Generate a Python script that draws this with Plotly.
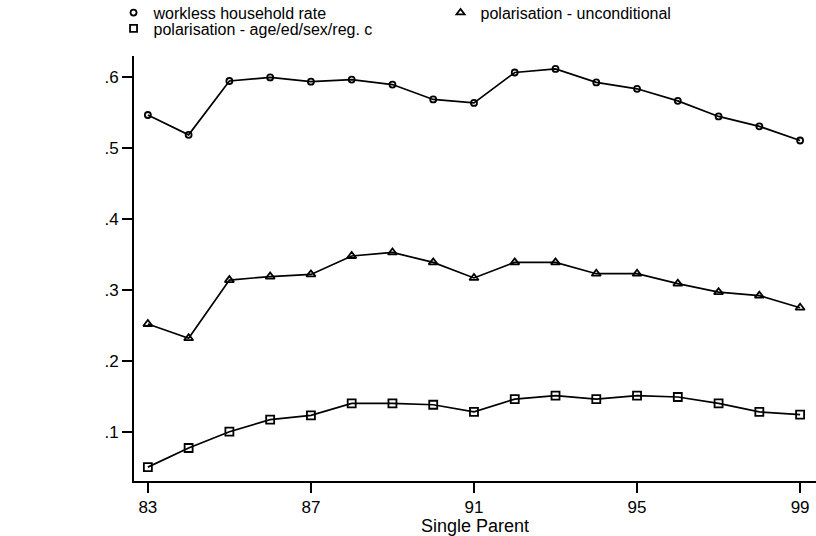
import plotly.graph_objects as go

years = list(range(83, 100))
workless = [0.547, 0.519, 0.595, 0.600, 0.594, 0.597, 0.590, 0.569, 0.564,
            0.607, 0.612, 0.593, 0.584, 0.567, 0.545, 0.531, 0.511]
polar_uncond = [0.252, 0.232, 0.314, 0.319, 0.322, 0.348, 0.353, 0.339, 0.317,
                0.339, 0.339, 0.323, 0.323, 0.309, 0.297, 0.292, 0.275]
polar_cond = [0.050, 0.077, 0.100, 0.117, 0.123, 0.140, 0.140, 0.138, 0.128,
              0.146, 0.151, 0.146, 0.151, 0.149, 0.140, 0.128, 0.124]

x_ticks = [83, 87, 91, 95, 99]
y_ticks = [0.1, 0.2, 0.3, 0.4, 0.5, 0.6]
y_tick_labels = [".1", ".2", ".3", ".4", ".5", ".6"]

FONT = "Liberation Sans"
fig = go.Figure()

series = [
    ("workless household rate", workless, "circle-open", 6, 6, "legend"),
    ("polarisation - unconditional", polar_uncond, "triangle-up-open", 8, 7, "legend"),
    ("polarisation - age/ed/sex/reg. c", polar_cond, "square-open", 8, 7, "legend2"),
]
for name, vals, sym, msize, lsize, lg in series:
    fig.add_trace(go.Scatter(
        x=years, y=vals, mode="lines+markers", name=name, showlegend=False,
        line=dict(color="black", width=1.7),
        marker=dict(symbol=sym, size=msize, color="black", line=dict(width=1.8, color="black")),
    ))
for name, vals, sym, msize, lsize, lg in series:
    fig.add_trace(go.Scatter(
        x=[None], y=[None], mode="markers", name=name, showlegend=True, legend=lg,
        marker=dict(symbol=sym, size=lsize, color="black", line=dict(width=1.8, color="black")),
    ))

legend_common = dict(
    orientation="h", xanchor="left", yanchor="top",
    entrywidth=282, entrywidthmode="pixels", font=dict(size=16),
    itemwidth=30, tracegroupgap=0, bgcolor="rgba(0,0,0,0)",
)

fig.update_layout(
    width=816, height=536,
    margin=dict(l=134, r=0, t=56, b=55, autoexpand=False),
    paper_bgcolor="white", plot_bgcolor="white",
    font=dict(family=FONT, size=16, color="black"),
    showlegend=True,
    legend=dict(x=-0.03, y=1.142, **legend_common),
    legend2=dict(x=-0.03, y=1.105, **legend_common),
    xaxis=dict(
        range=[82.66, 99.39], tickvals=x_ticks, ticktext=[str(v) for v in x_ticks],
        showline=True, linecolor="black", linewidth=1.8, showgrid=False, zeroline=False,
        ticks="outside", ticklen=10, tickwidth=1.8, tickcolor="black",
        title=dict(text="Single Parent", standoff=0, font=dict(size=18)),
        tickfont=dict(size=17),
    ),
    yaxis=dict(
        range=[0.0304, 0.6303], tickvals=y_ticks, ticktext=y_tick_labels,
        showline=True, linecolor="black", linewidth=1.8, showgrid=False, zeroline=False,
        ticks="outside", ticklen=10, tickwidth=1.8, tickcolor="black",
        tickfont=dict(size=17),
    ),
)

fig.write_html("out.html")
